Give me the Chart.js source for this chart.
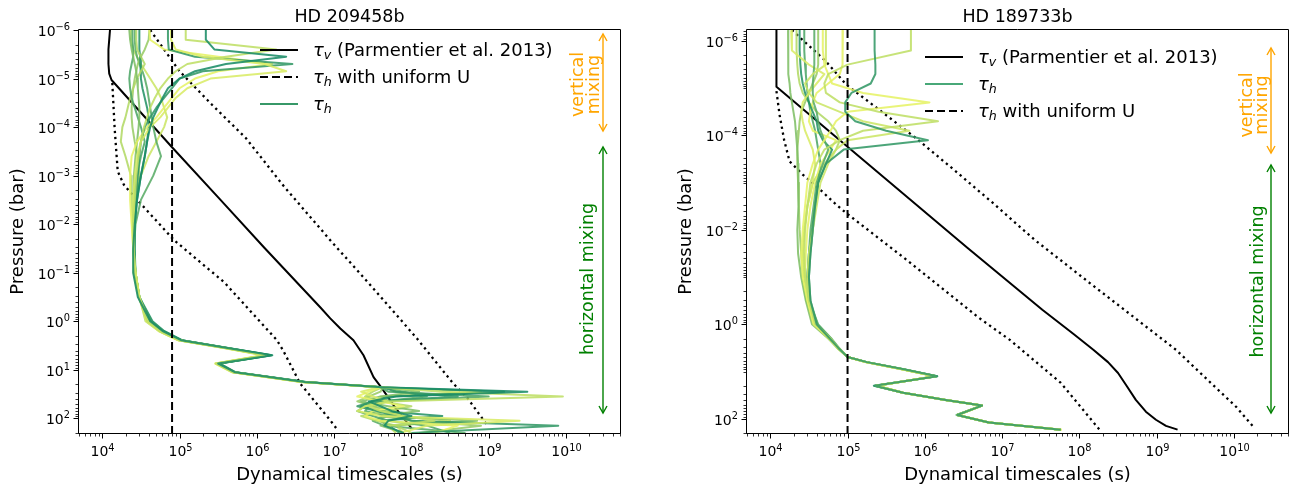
<!DOCTYPE html>
<html lang="en">
<head>
<meta charset="UTF-8" />
<title>Dynamical timescales</title>
<script src="https://cdn.jsdelivr.net/npm/chart.js@4"></script>
<style>
  body { margin: 0; background: #fff; }
  #wrap { position: relative; width: 1294px; height: 491px; }
  canvas { position: absolute; top: 0; }
</style>
</head>
<body>
<div id="wrap">
  <canvas id="chartA" width="647" height="491" style="left:0"></canvas>
  <canvas id="chartB" width="647" height="491" style="left:647px"></canvas>
</div>
<script>
// ---- HD 209458b (all values are log10: pressure in bar, timescale in s) ----
const levelsA = [-6.0, -5.8, -5.6, -5.45, -5.3, -5.15, -5.0, -4.8, -4.6, -4.4, -4.2, -4.0, -3.7, -3.4, -3.0, -2.5, -2.0, -1.5, -1.0, -0.5,
  0.0, 0.2, 0.39, 0.55, 0.7, 0.87, 1.05, 1.25, 1.36, 1.45, 1.55, 1.65, 1.75, 1.85, 1.95, 2.05, 2.15, 2.3];
const tauH_A = [
  [5.34,5.34,5.45,6.38,5.6,5.2,5.0,4.85,4.78,4.72,4.66,4.62,4.58,4.55,4.5,4.45,4.42,4.4,4.4,4.46, 4.62,4.78,5.02,5.62,6.2,5.5,5.72,6.62, 7.62,9.5,7.8,7.45,7.6,7.75,8.0,7.7,7.65,7.9],
  [5.08,5.08,6.25,5.6,5.1,4.95,4.85,4.75,4.68,4.62,4.58,4.54,4.5,4.47,4.44,4.42,4.4,4.4,4.41,4.47, 4.58,4.74,4.99,5.58,6.1,5.47,5.69,6.6, 7.6,8.4,9.96,7.7,7.45,7.6,7.9,8.3,7.7,7.8],
  [4.89,4.89,4.95,5.3,6.1,6.38,5.4,5.1,4.95,4.85,4.75,4.62,4.5,4.45,4.42,4.4,4.4,4.41,4.43,4.48, 4.6,4.75,5.0,5.6,6.12,5.48,5.7,6.58, 7.58,7.35,7.5,7.7,7.4,7.3,7.6,9.4,8.2,7.85],
  [4.85,4.85,4.86,5.2,6.46,5.3,5.0,4.9,4.8,4.7,4.62,4.55,4.5,4.48,4.46,4.44,4.42,4.42,4.42,4.47, 4.64,4.79,5.03,5.63,6.18,5.52,5.73,6.64, 7.63,7.8,8.6,7.5,7.3,7.55,7.8,8.0,9.9,8.0],
  [4.61,4.62,4.8,5.5,6.2,5.5,5.2,5.0,4.9,4.8,4.7,4.58,4.45,4.38,4.36,4.36,4.38,4.4,4.43,4.48, 4.57,4.73,4.98,5.57,6.08,5.46,5.68,6.57, 7.6,7.45,7.3,7.6,7.9,7.5,7.4,7.6,8.6,8.3],
  [4.35,4.36,4.38,4.4,4.42,4.44,4.45,4.46,4.47,4.48,4.48,4.47,4.45,4.43,4.41,4.4,4.4,4.41,4.43,4.48, 4.59,4.75,5.0,5.6,6.13,5.49,5.7,6.6, 7.64,8.1,7.6,7.35,7.7,8.1,7.6,8.85,7.6,7.9],
  [4.39,4.39,4.4,4.4,4.38,4.36,4.35,4.36,4.38,4.42,4.46,4.5,4.55,4.5,4.45,4.42,4.41,4.41,4.43,4.48, 4.63,4.77,5.01,5.61,6.16,5.5,5.71,6.61, 7.6,7.7,9.0,7.6,7.4,7.3,7.5,7.7,8.2,8.5],
  [4.44,4.44,4.45,4.5,4.55,4.5,4.45,4.4,4.36,4.33,4.3,4.26,4.24,4.3,4.37,4.38,4.39,4.4,4.43,4.48, 4.56,4.73,4.99,5.59,6.11,5.47,5.69,6.59, 7.62,7.5,7.4,7.6,8.0,7.7,7.35,7.55,7.8,8.0],
  [4.48,4.48,4.48,4.49,4.5,4.5,4.5,4.52,4.55,4.58,4.6,4.6,4.58,4.55,4.5,4.45,4.42,4.42,4.43,4.48, 4.65,4.8,5.03,5.62,6.19,5.52,5.72,6.63, 7.6,9.2,7.7,7.5,7.35,7.6,8.4,7.6,7.7,7.85],
  [4.61,4.6,4.55,4.5,4.46,4.44,4.42,4.4,4.39,4.38,4.38,4.39,4.42,4.46,4.48,4.44,4.41,4.41,4.43,4.48, 4.6,4.76,5.0,5.6,6.14,5.49,5.7,6.6, 7.63,7.6,7.45,7.3,7.5,7.8,7.6,8.0,8.9,8.1],
  [4.42,4.42,4.43,4.45,4.48,4.52,4.55,4.58,4.6,4.62,4.64,4.66,4.7,4.76,4.66,4.5,4.43,4.41,4.42,4.48, 4.62,4.77,5.01,5.61,6.15,5.5,5.71,6.61, 7.61,7.9,8.2,7.6,7.45,7.4,7.7,7.5,7.65,8.7],
  [4.37,4.37,4.4,4.45,4.5,4.56,4.62,4.7,4.76,4.8,4.84,4.8,4.7,4.6,4.5,4.42,4.4,4.4,4.42,4.48, 4.58,4.74,4.99,5.59,6.12,5.48,5.7,6.59, 7.62,8.9,7.6,7.7,7.5,7.65,7.9,8.5,7.8,7.9]
];
const tauV_A_P = [-6.0, -5.6, -5.3, -5.1, -4.97, -3.59, -2.5, -1.51, -0.29, -0.06, 0.15, 0.39, 0.70, 1.15, 1.36, 1.8, 2.2];
const tauV_A_t = [4.10, 4.08, 4.08, 4.09, 4.12, 4.90, 5.53, 6.10, 6.82, 6.95, 7.08, 7.25, 7.38, 7.51, 7.61, 7.8, 8.0];
const upper_A_P = [-6.0, -5.15, -4.46, -3.77, -2.78, -1.67, -0.78, 0.35, 1.28, 1.57, 2.14];
const upper_A_t = [4.62, 5.0, 5.42, 5.86, 6.35, 6.95, 7.45, 8.07, 8.54, 8.72, 8.98];
const lower_A_P = [-4.91, -3.98, -3.09, -2.81, -2.66, -2.14, -1.67, -0.80, 0.39, 0.60, 1.28, 2.04, 2.25];
const lower_A_t = [4.13, 4.16, 4.20, 4.28, 4.36, 4.66, 4.93, 5.58, 6.26, 6.34, 6.56, 6.95, 7.05];
const uniformU_A = 8e4;

// ---- HD 189733b ----
const levelsB = [-6.23, -5.8, -5.5, -5.3, -5.1, -4.9, -4.7, -4.5, -4.3, -4.1, -3.9, -3.7, -3.4, -3.0, -2.5, -2.0, -1.5, -1.0, -0.5,
  0.0, 0.3, 0.5, 0.69, 0.8, 0.95, 1.1, 1.3, 1.45, 1.6, 1.72, 1.92, 2.08, 2.23];
const tauH_B = [
  [5.35,5.35,5.36,5.36,5.3,5.05,4.97,4.97,5.1,5.5,6.04,4.95,4.72,4.62,4.58,4.55,4.52,4.5,4.52, 4.6,4.77,4.88,5.0,5.25,5.73,6.16,5.35,5.72,6.27,6.74,6.42,6.83,7.76],
  [5.82,5.82,5.0,4.75,4.7,4.72,4.9,5.4,6.17,5.2,4.9,4.7,4.6,4.52,4.48,4.45,4.44,4.45,4.5, 4.58,4.77,4.88,5.0,5.24,5.71,6.13,5.37,5.71,6.26,6.73,6.42,6.82,7.75],
  [4.68,4.68,4.7,4.75,4.8,5.2,6.06,5.0,4.85,4.78,4.7,4.62,4.55,4.48,4.45,4.42,4.4,4.42,4.48, 4.56,4.76,4.87,5.0,5.23,5.7,6.13,5.38,5.72,6.27,6.74,6.43,6.83,7.77],
  [4.72,4.72,4.72,4.55,4.45,4.5,4.6,4.9,5.2,5.8,5.0,4.85,4.75,4.65,4.6,4.55,4.5,4.48,4.5, 4.59,4.78,4.88,5.0,5.24,5.71,6.14,5.37,5.72,6.27,6.74,6.42,6.83,7.76],
  [4.57,4.57,4.57,4.56,4.55,4.55,4.56,4.6,4.62,4.65,4.7,4.75,4.68,4.6,4.56,4.52,4.5,4.48,4.5, 4.62,4.79,4.89,5.0,5.25,5.72,6.15,5.36,5.72,6.27,6.74,6.42,6.83,7.76],
  [4.23,4.23,4.23,4.24,4.25,4.26,4.28,4.3,4.32,4.33,4.34,4.35,4.36,4.37,4.36,4.35,4.36,4.4,4.46, 4.54,4.75,4.87,5.0,5.23,5.7,6.13,5.38,5.71,6.26,6.73,6.42,6.82,7.75],
  [4.27,4.28,4.5,4.7,4.6,4.5,4.42,4.4,4.42,4.45,4.5,4.55,4.58,4.55,4.48,4.44,4.42,4.42,4.47, 4.56,4.76,4.87,5.0,5.24,5.71,6.14,5.37,5.72,6.27,6.74,6.42,6.83,7.76],
  [4.38,4.38,4.39,4.4,4.42,4.45,4.5,4.55,4.6,4.62,4.68,4.8,4.72,4.62,4.58,4.54,4.5,4.48,4.5, 4.6,4.78,4.88,5.0,5.25,5.72,6.16,5.34,5.72,6.27,6.74,6.41,6.83,7.76],
  [4.62,4.62,4.62,4.6,4.55,4.5,4.45,4.4,4.38,4.37,4.36,4.35,4.35,4.36,4.37,4.38,4.4,4.42,4.47, 4.57,4.76,4.87,5.0,5.24,5.71,6.14,5.37,5.72,6.27,6.74,6.42,6.83,7.76],
  [4.94,4.94,4.93,4.9,4.75,4.6,4.55,4.52,4.5,4.55,4.85,4.78,4.65,4.58,4.52,4.48,4.46,4.45,4.5, 4.58,4.77,4.88,5.0,5.24,5.71,6.13,5.38,5.72,6.27,6.74,6.43,6.83,7.77],
  [4.44,4.44,4.45,4.46,4.47,4.48,4.5,4.52,4.55,4.58,4.6,4.62,4.65,4.62,4.58,4.55,4.52,4.5,4.52, 4.61,4.78,4.88,5.0,5.25,5.72,6.15,5.36,5.72,6.27,6.74,6.42,6.83,7.76],
  [4.34,4.34,4.35,4.36,4.38,4.42,4.5,4.6,4.75,4.85,4.9,4.85,4.7,4.55,4.48,4.44,4.42,4.43,4.48, 4.57,4.76,4.87,5.0,5.24,5.71,6.14,5.37,5.72,6.27,6.74,6.42,6.83,7.76]
];
const tauV_B_P = [-6.23, -5.03, -3.76, -1.62, -0.31, 0.2, 0.54, 0.8, 1.03, 1.3, 1.6, 1.85, 2.02, 2.15, 2.23];
const tauV_B_t = [4.08, 4.08, 5.0, 6.55, 7.52, 7.92, 8.18, 8.37, 8.5, 8.61, 8.73, 8.86, 8.99, 9.12, 9.27];
const upper_B_P = [-6.23, -5.57, -5.08, -4.48, -3.95, -3.24, -2.57, -1.79, -0.88, 0.54, 1.24, 1.75, 2.19];
const upper_B_t = [4.28, 4.72, 4.98, 5.46, 5.88, 6.40, 6.88, 7.42, 8.13, 9.25, 9.70, 10.03, 10.26];
const lower_B_P = [-4.94, -4.44, -3.9, -3.45, -3.17, -2.89, -2.54, -2.36, -1.37, -0.15, 0.33, 1.24, 2.23];
const lower_B_t = [4.08, 4.12, 4.18, 4.25, 4.42, 4.62, 4.85, 4.98, 5.76, 6.69, 7.10, 7.76, 8.26];
const uniformU_B = 1e5;

// axis ranges
const xRange = [5e3, 5e10];
const yRangeA = [1e-6, 2e2];
const yRangeB = [5.85e-7, 2e2];

// colour position of each tau_h profile in the "summer" colormap
const shadesA = [0.1, 0.75, 0.85, 0.2, 0.9, 0.5, 0.3, 0.7, 0.15, 0.6, 0.35, 0.8];
const shadesB = [0.2, 0.75, 0.9, 0.8, 0.35, 0.5, 0.85, 0.15, 0.6, 0.9, 0.3, 0.7];

const FONT = '"DejaVu Sans", sans-serif';

function summer(t, a) {
  return `rgba(${Math.round(255 * t)},${Math.round(255 * (0.5 + 0.5 * t))},102,${a})`;
}

function points(logP, logT) {
  return logP.map((p, i) => ({ x: Math.pow(10, logT[i]), y: Math.pow(10, p) }));
}

function buildDatasets(levels, tauH, shades, v, up, lo, uniform, yRange) {
  const base = { pointRadius: 0, fill: false, tension: 0, borderJoinStyle: 'round', borderCapStyle: 'butt' };
  const sets = [];
  sets.push({ ...base, data: [{ x: uniform, y: yRange[0] }, { x: uniform, y: yRange[1] }],
    borderColor: '#000', borderWidth: 2, borderDash: [8, 4], order: 0 });
  tauH.forEach((row, i) => sets.push({ ...base, data: points(levels, row),
    borderColor: summer(shades[i], 0.88), borderWidth: 2, order: 1 }));
  sets.push({ ...base, data: points(v[0], v[1]), borderColor: '#000', borderWidth: 2, order: 2 });
  sets.push({ ...base, data: points(up[0], up[1]), borderColor: '#000', borderWidth: 2.3, borderDash: [2.3, 3.7], order: 2 });
  sets.push({ ...base, data: points(lo[0], lo[1]), borderColor: '#000', borderWidth: 2.3, borderDash: [2.3, 3.7], order: 2 });
  return sets;
}

function pow10(ctx, k, x, y, align) {
  const e = String(k).replace('-', '\u2212');
  ctx.font = `14px ${FONT}`;
  const w1 = ctx.measureText('10').width;
  ctx.font = `9.8px ${FONT}`;
  const w2 = ctx.measureText(e).width;
  const x0 = align === 'center' ? x - (w1 + w2) / 2 : x - (w1 + w2);
  ctx.textAlign = 'left';
  ctx.textBaseline = 'alphabetic';
  ctx.font = `14px ${FONT}`;
  ctx.fillText('10', x0, y);
  ctx.font = `9.8px ${FONT}`;
  ctx.fillText(e, x0 + w1, y - 5.5);
}

function seg(ctx, x1, y1, x2, y2) {
  ctx.beginPath(); ctx.moveTo(x1, y1); ctx.lineTo(x2, y2); ctx.stroke();
}

function arrow(ctx, x, y1, y2, color) {
  ctx.strokeStyle = color;
  ctx.lineWidth = 1.4;
  seg(ctx, x, y1, x, y2);
  ctx.beginPath();
  ctx.moveTo(x - 4, y1 + 7); ctx.lineTo(x, y1); ctx.lineTo(x + 4, y1 + 7);
  ctx.moveTo(x - 4, y2 - 7); ctx.lineTo(x, y2); ctx.lineTo(x + 4, y2 - 7);
  ctx.stroke();
}

function vText(ctx, text, x, y, color) {
  ctx.save();
  ctx.translate(x, y);
  ctx.rotate(-Math.PI / 2);
  ctx.fillStyle = color;
  ctx.font = `17.5px ${FONT}`;
  ctx.textAlign = 'center';
  ctx.textBaseline = 'alphabetic';
  ctx.fillText(text, 0, 0);
  ctx.restore();
}

// draws tau with an italic subscript, then plain text
function tauLabel(ctx, x, y, sub, rest) {
  ctx.textAlign = 'left';
  ctx.textBaseline = 'alphabetic';
  ctx.fillStyle = '#000';
  ctx.font = `italic 18px ${FONT}`;
  ctx.fillText('\u03c4', x, y);
  x += ctx.measureText('\u03c4').width;
  ctx.font = `italic 12.6px ${FONT}`;
  ctx.fillText(sub, x, y + 3.5);
  x += ctx.measureText(sub).width;
  ctx.font = `18px ${FONT}`;
  ctx.fillText(rest, x, y);
}

const decor = {
  id: 'decor',
  afterDraw(chart, args, opt) {
    const ctx = chart.ctx, a = chart.chartArea;
    const sx = chart.scales.x, sy = chart.scales.y;
    ctx.save();
    ctx.strokeStyle = '#000';
    ctx.fillStyle = '#000';

    // frame
    ctx.lineWidth = 1;
    ctx.beginPath();
    ctx.rect(a.left - 0.5, a.top - 0.5, a.right - a.left + 1, a.bottom - a.top + 1);
    ctx.stroke();

    const tickSet = (s, step) => {
      const major = [], minor = [];
      for (let k = Math.floor(Math.log10(s.min)); k <= Math.ceil(Math.log10(s.max)); k++) {
        for (let m = 1; m <= 9; m++) {
          const v = m * Math.pow(10, k);
          if (v < s.min * 0.9999 || v > s.max * 1.0001) continue;
          if (m === 1 && k % step === 0) major.push(k); else minor.push(v);
        }
      }
      return { major, minor };
    };

    // x ticks
    const tx = tickSet(sx, 1);
    ctx.lineWidth = 0.8;
    tx.minor.forEach(v => { const p = Math.round(sx.getPixelForValue(v)) + 0.5; seg(ctx, p, a.bottom, p, a.bottom + 3.5); });
    ctx.lineWidth = 1;
    tx.major.forEach(k => {
      const p = Math.round(sx.getPixelForValue(Math.pow(10, k))) + 0.5;
      seg(ctx, p, a.bottom, p, a.bottom + 5.5);
      pow10(ctx, k, p, a.bottom + 23, 'center');
    });

    // y ticks
    const ty = tickSet(sy, opt.yStep);
    ctx.lineWidth = 0.8;
    ty.minor.forEach(v => { const p = Math.round(sy.getPixelForValue(v)) + 0.5; seg(ctx, a.left - 3.5, p, a.left, p); });
    ctx.lineWidth = 1;
    ty.major.forEach(k => {
      const p = Math.round(sy.getPixelForValue(Math.pow(10, k))) + 0.5;
      seg(ctx, a.left - 5.5, p, a.left, p);
      pow10(ctx, k, a.left - 9, p + 5, 'right');
    });

    // titles
    const cx = (a.left + a.right) / 2, cy = (a.top + a.bottom) / 2;
    ctx.font = `17.5px ${FONT}`;
    ctx.textAlign = 'center';
    ctx.textBaseline = 'alphabetic';
    ctx.fillText(opt.title, cx, a.top - 8);
    ctx.font = `18px ${FONT}`;
    ctx.fillText('Dynamical timescales (s)', cx, a.bottom + 47);
    ctx.save();
    ctx.translate(a.left - 56, cy);
    ctx.rotate(-Math.PI / 2);
    ctx.fillText('Pressure (bar)', 0, 0);
    ctx.restore();

    // legend
    const lg = opt.legend;
    lg.items.forEach((it, i) => {
      const y = a.top + lg.y0 + i * lg.dy;
      const x0 = a.left + lg.dx, x1 = x0 + 38;
      ctx.lineWidth = 2;
      ctx.setLineDash(it.kind === 'dashed' ? [8, 4] : []);
      ctx.strokeStyle = it.kind === 'green' ? lg.green : '#000';
      seg(ctx, x0, y, x1, y);
      ctx.setLineDash([]);
      tauLabel(ctx, x1 + 15, y + 5.5, it.sub, it.rest);
    });

    // mixing annotations
    const n = opt.notes, ax = a.right - 17;
    arrow(ctx, ax, a.top + n.orange[0], a.top + n.orange[1], 'orange');
    arrow(ctx, ax, a.top + n.green[0], a.top + n.green[1], 'green');
    vText(ctx, 'vertical', a.right + n.vText[0], a.top + n.vText[2], 'orange');
    vText(ctx, 'mixing', a.right + n.vText[1], a.top + n.vText[2], 'orange');
    vText(ctx, 'horizontal mixing', a.right + n.hText[0], a.top + n.hText[1], 'green');

    ctx.restore();
  }
};

function makeChart(id, datasets, yRange, padding, decorOpts) {
  return new Chart(document.getElementById(id), {
    type: 'line',
    data: { datasets },
    plugins: [decor],
    options: {
      responsive: false,
      animation: false,
      events: [],
      devicePixelRatio: 1,
      layout: { padding },
      plugins: { legend: { display: false }, tooltip: { enabled: false }, decor: decorOpts },
      scales: {
        x: { type: 'logarithmic', min: xRange[0], max: xRange[1], bounds: 'data', display: false },
        y: { type: 'logarithmic', min: yRange[0], max: yRange[1], bounds: 'data', reverse: true, display: false }
      }
    }
  });
}

makeChart('chartA',
  buildDatasets(levelsA, tauH_A, shadesA, [tauV_A_P, tauV_A_t], [upper_A_P, upper_A_t], [lower_A_P, lower_A_t], uniformU_A, yRangeA),
  yRangeA,
  { left: 79, top: 30, right: 27, bottom: 58 },
  {
    title: 'HD 209458b', yStep: 1,
    legend: { dx: 181, y0: 20, dy: 27, green: 'rgb(55,152,104)', items: [
      { kind: 'solid', sub: 'v', rest: ' (Parmentier et al. 2013)' },
      { kind: 'dashed', sub: 'h', rest: ' with uniform U' },
      { kind: 'green', sub: 'h', rest: '' }
    ] },
    notes: { orange: [4, 101], green: [117, 383], vText: [-37, -21, 54.5], hText: [-27, 249] }
  });

makeChart('chartB',
  buildDatasets(levelsB, tauH_B, shadesB, [tauV_B_P, tauV_B_t], [upper_B_P, upper_B_t], [lower_B_P, lower_B_t], uniformU_B, yRangeB),
  yRangeB,
  { left: 100, top: 30, right: 6, bottom: 58 },
  {
    title: 'HD 189733b', yStep: 2,
    legend: { dx: 178, y0: 27, dy: 27, green: 'rgb(72,168,120)', items: [
      { kind: 'solid', sub: 'v', rest: ' (Parmentier et al. 2013)' },
      { kind: 'green', sub: 'h', rest: '' },
      { kind: 'dashed', sub: 'h', rest: ' with uniform U' }
    ] },
    notes: { orange: [18, 123], green: [135, 383], vText: [-36, -21, 75], hText: [-25, 251.5] }
  });
</script>
</body>
</html>
